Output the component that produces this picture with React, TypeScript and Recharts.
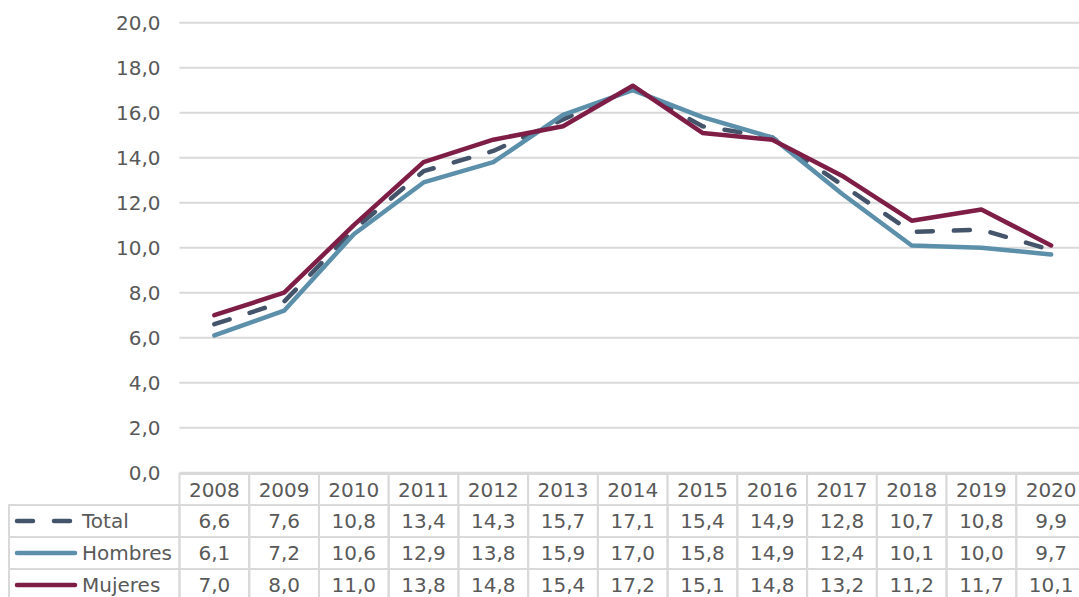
import React from 'react';
import { LineChart, Line, XAxis, YAxis, CartesianGrid } from 'recharts';

const years = ['2008', '2009', '2010', '2011', '2012', '2013', '2014', '2015', '2016', '2017', '2018', '2019', '2020'];
const total = [6.6, 7.6, 10.8, 13.4, 14.3, 15.7, 17.1, 15.4, 14.9, 12.8, 10.7, 10.8, 9.9];
const hombres = [6.1, 7.2, 10.6, 12.9, 13.8, 15.9, 17.0, 15.8, 14.9, 12.4, 10.1, 10.0, 9.7];
const mujeres = [7.0, 8.0, 11.0, 13.8, 14.8, 15.4, 17.2, 15.1, 14.8, 13.2, 11.2, 11.7, 10.1];
const yTicks = [0, 2, 4, 6, 8, 10, 12, 14, 16, 18, 20];

const seriesNames = ['Total', 'Hombres', 'Mujeres'];
const seriesKeys = ['total', 'hombres', 'mujeres'];
const seriesValues = [total, hombres, mujeres];
const seriesColors = ['#44546A', '#5B8FAA', '#7E1E47'];
const seriesDash = ['16 21', undefined, undefined];

const data = years.map((y, i) => ({
  year: y,
  total: total[i],
  hombres: hombres[i],
  mujeres: mujeres[i],
}));

const CHART_W = 1086;
const CHART_H = 597;
const Y_AXIS_W = 179.5;
const COL_W = (CHART_W - Y_AXIS_W) / years.length;
const TABLE_TOP = 474;
const ROW_H = 32;
const TABLE_LEFT = 9;
const BORDER = '#D9D9D9';
const TEXT = '#595959';
const FONT = '"DejaVu Sans", Verdana, sans-serif';
const FS = 20;

const fmt = (v: number) => v.toFixed(1).replace('.', ',');

const TableTick = (props: any) => {
  const { x, payload } = props;
  const idx: number = props.index ?? payload?.index ?? 0;
  const left = x - COL_W / 2;
  const cells: React.ReactNode[] = [];
  // header cell
  cells.push(
    <rect key="h" x={left} y={TABLE_TOP} width={COL_W} height={ROW_H - 1} fill="#fff" stroke={BORDER} strokeWidth={2} />
  );
  cells.push(
    <text key="ht" x={x} y={TABLE_TOP + 15.5 + 7.3} textAnchor="middle" fill={TEXT} fontSize={FS} fontFamily={FONT}>
      {payload.value}
    </text>
  );
  seriesValues.forEach((vals, r) => {
    const top = TABLE_TOP + ROW_H - 1 + r * ROW_H;
    cells.push(
      <rect key={'r' + r} x={left} y={top} width={COL_W} height={ROW_H} fill="none" stroke={BORDER} strokeWidth={2} />
    );
    cells.push(
      <text key={'t' + r} x={x} y={top + ROW_H / 2 + 7.3} textAnchor="middle" fill={TEXT} fontSize={FS} fontFamily={FONT}>
        {fmt(vals[idx])}
      </text>
    );
  });
  if (idx === 0) {
    seriesNames.forEach((name, r) => {
      const top = TABLE_TOP + ROW_H - 1 + r * ROW_H;
      const cy = top + ROW_H / 2;
      cells.push(
        <rect key={'lc' + r} x={TABLE_LEFT} y={top} width={Y_AXIS_W - TABLE_LEFT} height={ROW_H} fill="none" stroke={BORDER} strokeWidth={2} />
      );
      cells.push(
        <line
          key={'ll' + r}
          x1={17}
          x2={75}
          y1={cy}
          y2={cy}
          stroke={seriesColors[r]}
          strokeWidth={4.5}
          strokeLinecap="round"
          strokeDasharray={seriesDash[r]}
        />
      );
      cells.push(
        <text key={'lt' + r} x={82} y={cy + 7.3} textAnchor="start" fill={TEXT} fontSize={FS} fontFamily={FONT}>
          {name}
        </text>
      );
    });
  }
  return <g>{cells}</g>;
};

export default function App() {
  return (
    <div style={{ position: 'absolute', left: 0, top: 0, width: 1079, height: 597, overflow: 'hidden', background: '#fff' }}>
      <LineChart
        width={CHART_W}
        height={CHART_H}
        data={data}
        margin={{ top: 22.7, right: 0, bottom: 0, left: 0 }}
      >
        <CartesianGrid vertical={false} stroke={BORDER} strokeWidth={2} />
        <XAxis
          dataKey="year"
          height={CHART_H - 22.7 - 450}
          axisLine={false}
          tickLine={false}
          interval={0}
          padding={{ left: COL_W / 2, right: COL_W / 2 }}
          tick={<TableTick />}
        />
        <YAxis
          width={Y_AXIS_W}
          domain={[0, 20]}
          ticks={yTicks}
          interval={0}
          axisLine={false}
          tickLine={false}
          tickSize={0}
          tickMargin={19}
          tickFormatter={fmt}
          tick={{ fill: TEXT, fontSize: FS, fontFamily: FONT }}
        />
        {seriesKeys.map((k, i) => (
          <Line
            key={k}
            dataKey={k}
            name={seriesNames[i]}
            stroke={seriesColors[i]}
            strokeWidth={4.5}
            strokeDasharray={seriesDash[i]}
            strokeLinecap="round"
            strokeLinejoin="round"
            dot={false}
            activeDot={false}
            isAnimationActive={false}
          />
        ))}
      </LineChart>
    </div>
  );
}
